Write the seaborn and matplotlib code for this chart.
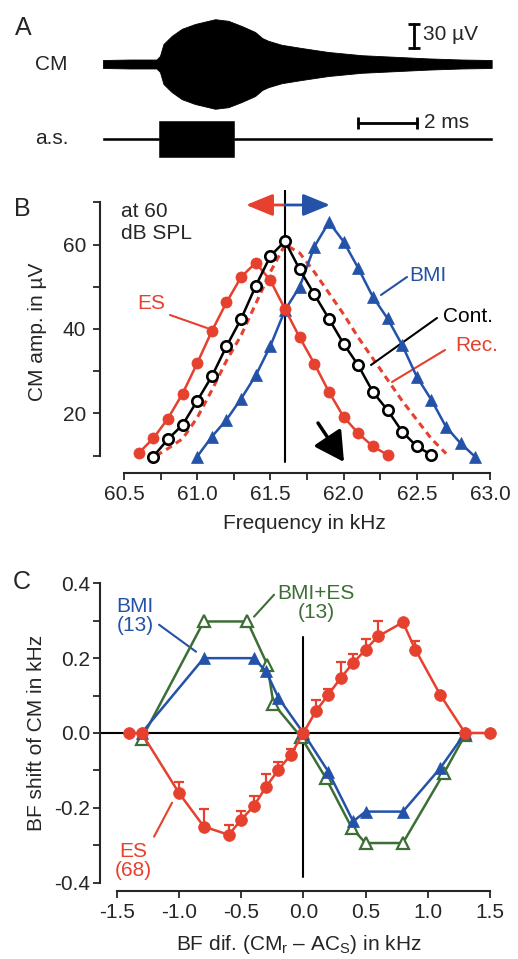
import matplotlib
matplotlib.use("Agg")
import matplotlib.pyplot as plt
import seaborn as sns

# ---------------- data ----------------
# Panel A: envelopes of the recordings (time in ms, half-amplitude in µV)
cm_t = [0.0, 0.92, 1.83, 1.95, 2.07, 2.35, 2.70, 3.15, 3.84, 4.29, 4.75, 5.21,
        5.45, 5.66, 6.12, 6.80, 7.72, 8.86, 10.0, 11.14, 12.28, 13.31]
cm_env = [5, 5.6, 5.6, 10, 25, 35, 44, 50, 56, 54, 47.5, 40, 32.5, 29, 24, 20,
          15, 11, 9, 7, 5.6, 5]
as_t = [0.0, 1.92, 1.92, 4.50, 4.50, 13.31]
as_env = [0.8, 0.8, 22.5, 22.5, 0.8, 0.8]

# Panel B: CM amplitude (µV) vs frequency (kHz)
es_f = [60.6, 60.7, 60.8, 60.9, 61.0, 61.1, 61.2, 61.3, 61.4, 61.5, 61.6, 61.7,
        61.8, 61.9, 62.0, 62.1, 62.2, 62.3]
es_a = [10.6, 14.1, 18.8, 24.7, 31.9, 39.5, 46.3, 52.3, 55.7, 51.5, 44.7, 38.0,
        31.8, 25.1, 19.2, 15.3, 12.2, 10.2]
cont_f = [60.7, 60.8, 60.9, 61.0, 61.1, 61.2, 61.3, 61.4, 61.5, 61.6, 61.7, 61.8,
          61.9, 62.0, 62.1, 62.2, 62.3, 62.4, 62.5, 62.6]
cont_a = [9.8, 13.9, 17.3, 23.0, 28.8, 35.9, 42.4, 50.2, 57.3, 60.8, 54.1, 48.2,
          42.4, 36.5, 31.4, 25.1, 20.8, 15.7, 12.2, 10.2]
bmi_f = [61.0, 61.1, 61.2, 61.3, 61.4, 61.5, 61.6, 61.7, 61.8, 61.9, 62.0, 62.1,
         62.2, 62.3, 62.4, 62.5, 62.6, 62.7, 62.8, 62.9]
bmi_a = [9.8, 14.5, 18.5, 23.5, 29.0, 36.0, 44.5, 50.0, 59.5, 65.3, 60.7, 54.4,
         47.6, 42.5, 36.2, 28.7, 23.2, 16.8, 12.9, 9.7]
rec_f = [60.72, 60.8, 60.9, 61.0, 61.1, 61.2, 61.3, 61.4, 61.5, 61.6, 61.7, 61.8,
         61.9, 62.0, 62.1, 62.2, 62.3, 62.4, 62.5, 62.6, 62.7]
rec_a = [10.0, 11.7, 14.0, 19.0, 25.5, 32.5, 38.5, 46.0, 53.5, 60.0, 58.0, 53.5,
         48.5, 43.5, 38.0, 33.0, 28.0, 23.0, 18.5, 14.0, 10.5]
bf_control = 61.6

# Panel C: BF shift (kHz) vs BF difference (kHz)
esc_x = [-1.4, -1.3, -1.0, -0.8, -0.6, -0.5, -0.4, -0.3, -0.2, -0.1, 0.0, 0.1,
         0.2, 0.3, 0.4, 0.5, 0.6, 0.8, 0.9, 1.1, 1.3, 1.5]
esc_y = [0.0, 0.0, -0.16, -0.25, -0.272, -0.232, -0.196, -0.144, -0.098, -0.058,
         0.0, 0.058, 0.102, 0.147, 0.187, 0.223, 0.258, 0.296, 0.223, 0.102, 0.0, 0.0]
esc_err = [0.0, 0.0, 0.03, 0.047, 0.027, 0.023, 0.027, 0.035, 0.02, 0.015, 0.0,
           0.03, 0.015, 0.044, 0.025, 0.027, 0.04, 0.0, 0.022, 0.0, 0.0, 0.0]
bmic_x = [-1.3, -0.8, -0.4, -0.3, -0.2, 0.0, 0.2, 0.4, 0.5, 0.8, 1.1, 1.3]
bmic_y = [0.0, 0.2, 0.2, 0.165, 0.094, 0.0, -0.103, -0.236, -0.21, -0.21, -0.094, 0.0]
bes_x = [-1.3, -0.8, -0.45, -0.29, -0.24, -0.02, 0.18, 0.39, 0.5, 0.8, 1.13, 1.3]
bes_y = [-0.016, 0.298, 0.298, 0.183, 0.078, -0.01, -0.12, -0.254, -0.294, -0.294,
         -0.107, -0.005]

# ---------------- style ----------------
sns.set_style("ticks")
plt.rcParams["font.family"] = ["Liberation Sans", "DejaVu Sans"]
plt.rcParams["mathtext.fontset"] = "custom"
plt.rcParams["mathtext.rm"] = "Liberation Sans"
plt.rcParams["mathtext.it"] = "Liberation Sans:italic"
plt.rcParams["axes.unicode_minus"] = False

RED = "#e6402e"
BLUE = "#2352a8"
GREEN = "#3d6e36"
FS = 15

W, H = 518, 959
fig = plt.figure(figsize=(W / 100, H / 100), dpi=100)


def axes_px(l, t, r, b):
    return fig.add_axes([l / W, 1 - b / H, (r - l) / W, (b - t) / H])


def ftext(x, y, s, **kw):
    fig.text(x / W, 1 - y / H, s, **kw)


def style_axes(ax, ypad):
    for s in ["top", "right"]:
        ax.spines[s].set_visible(False)
    for s in ["left", "bottom"]:
        ax.spines[s].set_linewidth(1.5)
    ax.tick_params(which="both", length=5, width=1.3, labelsize=FS,
                   direction="out")
    ax.tick_params(axis="x", which="both", pad=3.5)
    ax.tick_params(axis="y", which="both", pad=ypad)


# ---------------- Panel A ----------------
axA = axes_px(0, 0, 518, 175)
PXMS, PXUV = 29.2, 0.8
axA.set_xlim(-103 / PXMS, (518 - 103) / PXMS)
axA.set_ylim(-(175 - 64) / PXUV, 64 / PXUV)
axA.axis("off")
cm_lo = [-v for v in cm_env]
axA.fill_between(cm_t, cm_lo, cm_env, color="black", lw=0.6)
as_base = -75 / PXUV
axA.fill_between(as_t, [as_base - v for v in as_env], [as_base + v for v in as_env],
                 color="black", lw=0.4)
# scale bars
axA.plot([10.65, 10.65], [20, 50], color="black", lw=2, marker="_", ms=8, mew=2)
axA.text(10.95, 37, "30 µV", fontsize=FS, va="center", ha="left")
axA.plot([8.74, 10.74], [-74, -74], color="black", lw=2, marker="|", ms=8, mew=2)
axA.text(10.98, -73, "2 ms", fontsize=FS, va="center", ha="left")

ftext(23, 28, "A", fontsize=18, ha="center", va="center")
ftext(51, 65, "CM", fontsize=FS, ha="center", va="center")
ftext(52, 139, "a.s.", fontsize=FS, ha="center", va="center")

# ---------------- Panel B ----------------
axB = axes_px(100, 190, 497, 473)
BPX, BPY = 146.4, 4.223
axB.set_xlim(60.5 - 24 / BPX, 63.0 + 7 / BPX)
axB.set_ylim(10 - (473 - 455.7) / BPY, 70 + (202.3 - 190) / BPY)
style_axes(axB, 5)
axB.spines["left"].set_bounds(10, 70)
axB.spines["bottom"].set_bounds(60.5, 63.0)
axB.set_xticks([60.5, 61.0, 61.5, 62.0, 62.5, 63.0])
axB.set_xticklabels(["60.5", "61.0", "61.5", "62.0", "62.5", "63.0"])
axB.set_xticks([60.75, 61.25, 61.75, 62.25, 62.75], minor=True)
axB.set_yticks([20, 40, 60])
axB.set_yticks([10, 30, 50, 70], minor=True)


def bx(px):
    return 60.5 + (px - 124) / BPX


def by(py):
    return 10 + (455.7 - py) / BPY


axB.axvline(bf_control, ymin=(473 - 461.7) / 283, ymax=1.0, color="black", lw=1.5,
            zorder=1)
sns.lineplot(x=rec_f, y=rec_a, ax=axB, color=RED, lw=2.2, linestyle=(0, (2.2, 1.6)),
             sort=False, errorbar=None, legend=False, zorder=2)
sns.lineplot(x=bmi_f, y=bmi_a, ax=axB, color=BLUE, lw=1.8, marker="^", ms=8,
             markeredgecolor=BLUE, markerfacecolor=BLUE, markeredgewidth=0.5,
             sort=False, errorbar=None, legend=False, zorder=3)
sns.lineplot(x=es_f, y=es_a, ax=axB, color=RED, lw=1.8, marker="o", ms=8,
             markeredgecolor=RED, markerfacecolor=RED, markeredgewidth=0.5,
             sort=False, errorbar=None, legend=False, zorder=4)
sns.lineplot(x=cont_f, y=cont_a, ax=axB, color="black", lw=1.8, marker="o", ms=7.5,
             markeredgecolor="black", markerfacecolor="white", markeredgewidth=1.9,
             sort=False, errorbar=None, legend=False, zorder=5)
axB.set_xlabel("Frequency in kHz", fontsize=FS)
axB.xaxis.set_label_coords(0.515, -0.145)
axB.set_ylabel("CM amp. in µV", fontsize=FS, labelpad=11)

# arrows at top
axB.annotate("", xy=(bx(246), by(205)), xytext=(bf_control, by(205)),
             arrowprops=dict(arrowstyle="-|>,head_length=1.1,head_width=0.45",
                             color=RED, lw=2, mutation_scale=15, shrinkA=0, shrinkB=0),
             annotation_clip=False)
axB.annotate("", xy=(bx(330), by(205)), xytext=(bf_control, by(205)),
             arrowprops=dict(arrowstyle="-|>,head_length=1.1,head_width=0.45",
                             color=BLUE, lw=2, mutation_scale=15, shrinkA=0, shrinkB=0),
             annotation_clip=False)
axB.annotate("", xy=(bx(344), by(462)), xytext=(bx(318), by(423)),
             arrowprops=dict(arrowstyle="-|>,head_length=1.0,head_width=0.55",
                             color="black", lw=2.5, mutation_scale=18, shrinkA=0,
                             shrinkB=0),
             annotation_clip=False)

# labels
axB.text(bx(121), by(202), "at 60\ndB SPL", fontsize=FS, ha="left", va="top",
         linespacing=1.2)
axB.text(bx(151), by(304), "ES", fontsize=FS, color=RED, ha="center", va="center")
axB.plot([bx(170), bx(207)], [by(315), by(328)], color=RED, lw=1.5)
axB.text(bx(428), by(276), "BMI", fontsize=FS, color=BLUE, ha="center", va="center")
axB.plot([bx(407), bx(381)], [by(277), by(295)], color=BLUE, lw=1.5)
axB.text(bx(468), by(317), "Cont.", fontsize=FS, color="black", ha="center",
         va="center")
axB.plot([bx(437), bx(371)], [by(318), by(365)], color="black", lw=1.5)
axB.text(bx(477), by(346), "Rec.", fontsize=FS, color=RED, ha="center", va="center")
axB.plot([bx(445), bx(392)], [by(350), by(382)], color=RED, lw=1.5)

ftext(22, 209, "B", fontsize=18, ha="center", va="center")

# ---------------- Panel C ----------------
axC = axes_px(100, 575, 497, 891)
CPX, CPY = 124.43, 374.25
axC.set_xlim(-1.5 - 16.7 / CPX, 1.5 + 7 / CPX)
axC.set_ylim(-0.4 - (891 - 882.7) / CPY, 0.4 + (583.3 - 575) / CPY)
style_axes(axC, 2)
axC.spines["left"].set_bounds(-0.4, 0.4)
axC.spines["bottom"].set_bounds(-1.5, 1.5)
axC.set_xticks([-1.5, -1.0, -0.5, 0.0, 0.5, 1.0, 1.5])
axC.set_xticklabels(["-1.5", "-1.0", "-0.5", "0.0", "0.5", "1.0", "1.5"])
axC.set_yticks([-0.4, -0.2, 0.0, 0.2, 0.4])
axC.set_yticklabels(["-0.4", "-0.2", "0.0", "0.2", "0.4"])
axC.set_yticks([-0.3, -0.1, 0.1, 0.3], minor=True)


def cx(px):
    return (px - 304.3) / CPX


def cy(py):
    return (733.3 - py) / CPY


axC.axhline(0, xmin=0, xmax=(493 - 100) / 397, color="black", lw=1.5, zorder=1)
axC.axvline(0, ymin=(891 - 877) / 316, ymax=(891 - 637) / 316, color="black",
            lw=1.5, zorder=1)
sns.lineplot(x=bes_x, y=bes_y, ax=axC, color=GREEN, lw=1.8, marker="^", ms=9,
             markeredgecolor=GREEN, markerfacecolor="white", markeredgewidth=1.6,
             sort=False, errorbar=None, legend=False, zorder=3)
sns.lineplot(x=bmic_x, y=bmic_y, ax=axC, color=BLUE, lw=1.8, marker="^", ms=8.5,
             markeredgecolor=BLUE, markerfacecolor=BLUE, markeredgewidth=0.5,
             sort=False, errorbar=None, legend=False, zorder=4)
axC.errorbar(esc_x, esc_y, yerr=[[0] * len(esc_err), esc_err], fmt="none",
             ecolor=RED, elinewidth=1.6, capsize=3.5, capthick=1.6, zorder=5)
sns.lineplot(x=esc_x, y=esc_y, ax=axC, color=RED, lw=1.8, marker="o", ms=8.5,
             markeredgecolor=RED, markerfacecolor=RED, markeredgewidth=0.5,
             sort=False, errorbar=None, legend=False, zorder=6)
axC.set_xlabel("BF dif. (CM$_\\mathrm{r}$ – AC$_\\mathrm{S}$) in kHz", fontsize=FS,
               labelpad=8)
axC.set_ylabel("BF shift of CM in kHz", fontsize=FS, labelpad=6)

axC.text(cx(136), cy(616), "BMI\n(13)", fontsize=FS, color=BLUE, ha="center",
         va="center", linespacing=1.0)
axC.plot([cx(160), cx(197)], [cy(625), cy(652)], color=BLUE, lw=1.5)
axC.text(cx(317), cy(603), "BMI+ES\n(13)", fontsize=FS, color=GREEN, ha="center",
         va="center", linespacing=1.0)
axC.plot([cx(275), cx(255)], [cy(595), cy(617)], color=GREEN, lw=1.5)
axC.text(cx(134), cy(861), "ES\n(68)", fontsize=FS, color=RED, ha="center",
         va="center", linespacing=1.0)
axC.plot([cx(173), cx(155)], [cy(803), cy(837)], color=RED, lw=1.5)

ftext(22, 582, "C", fontsize=18, ha="center", va="center")

fig.savefig("out.png", dpi=100)
